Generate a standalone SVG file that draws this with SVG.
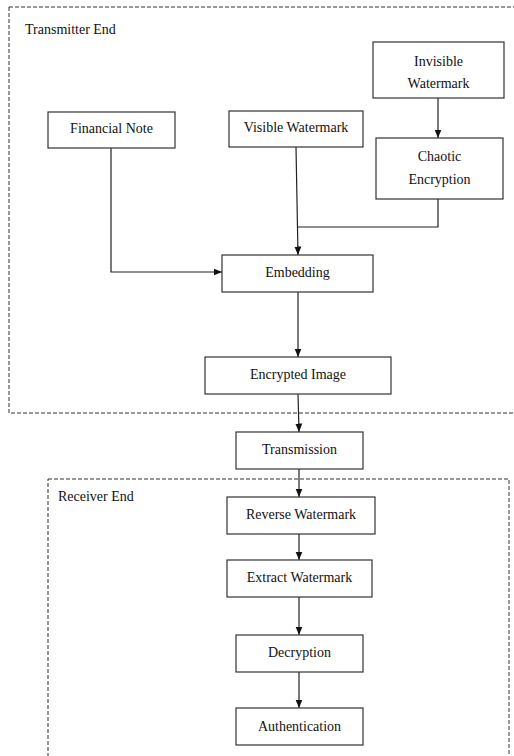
<svg xmlns="http://www.w3.org/2000/svg" width="514" height="756" viewBox="0 0 514 756" font-family="'Liberation Serif', 'DejaVu Serif', 'Times New Roman', serif">
<style>
.box{fill:#fff;stroke:#333;stroke-width:1.2}
.grp{fill:none;stroke:#333;stroke-width:1;stroke-dasharray:4,2}
.t{font-family:'Liberation Serif','DejaVu Serif',serif;font-size:14px;fill:#111;text-anchor:middle}
.lbl{font-family:'Liberation Serif','DejaVu Serif',serif;font-size:14px;fill:#111}
.c{fill:none;stroke:#222;stroke-width:1.2}
</style>
<defs>
<marker id="ah" markerUnits="userSpaceOnUse" markerWidth="9" markerHeight="9" viewBox="0 0 9 9" refX="8.5" refY="4.5" orient="auto">
<path d="M0,1 L8.5,4.5 L0,8 Z" fill="#111"/>
</marker>
</defs>
<rect width="514" height="756" fill="#fff"/>
<g id="transmitter-group">
<rect class="grp" x="9" y="7" width="520" height="406"/>
<text class="lbl" x="25" y="34">Transmitter End</text>
</g>
<g id="receiver-group">
<rect class="grp" x="48" y="479" width="461" height="290"/>
<text class="lbl" x="58" y="501">Receiver End</text>
</g>
<g id="connectors">
<path class="c" d="M438,98 L438,138" marker-end="url(#ah)"/>
<path class="c" d="M296,147 L298,255" marker-end="url(#ah)"/>
<path class="c" d="M438,199 L438,227 L298,227"/>
<path class="c" d="M111,148 L111,272 L222,272" marker-end="url(#ah)"/>
<path class="c" d="M298,292 L298,357" marker-end="url(#ah)"/>
<path class="c" d="M298,394 L299,432" marker-end="url(#ah)"/>
<path class="c" d="M299,469 L299,497" marker-end="url(#ah)"/>
<path class="c" d="M299,534 L299,560" marker-end="url(#ah)"/>
<path class="c" d="M299,597 L299,635" marker-end="url(#ah)"/>
<path class="c" d="M299,672 L299,708" marker-end="url(#ah)"/>
</g>
<g id="invisible-watermark">
<rect class="box" x="373" y="42" width="131" height="56"/>
<text class="t" x="438.5" y="66">Invisible</text>
<text class="t" x="438.5" y="88">Watermark</text>
</g>
<g id="chaotic-encryption">
<rect class="box" x="376" y="138" width="127" height="61"/>
<text class="t" x="439.5" y="161">Chaotic</text>
<text class="t" x="439.5" y="184">Encryption</text>
</g>
<g id="financial-note">
<rect class="box" x="48" y="112" width="127" height="36"/>
<text class="t" x="111.5" y="133">Financial Note</text>
</g>
<g id="visible-watermark">
<rect class="box" x="229" y="111" width="134" height="36"/>
<text class="t" x="296" y="132">Visible Watermark</text>
</g>
<g id="embedding">
<rect class="box" x="222" y="255" width="151" height="37"/>
<text class="t" x="297.5" y="277">Embedding</text>
</g>
<g id="encrypted-image">
<rect class="box" x="205" y="357" width="186" height="37"/>
<text class="t" x="298" y="379">Encrypted Image</text>
</g>
<g id="transmission">
<rect class="box" x="236" y="432" width="127" height="37"/>
<text class="t" x="299.5" y="454">Transmission</text>
</g>
<g id="reverse-watermark">
<rect class="box" x="227" y="497" width="148" height="37"/>
<text class="t" x="301" y="519">Reverse Watermark</text>
</g>
<g id="extract-watermark">
<rect class="box" x="227" y="560" width="145" height="37"/>
<text class="t" x="299.5" y="582">Extract Watermark</text>
</g>
<g id="decryption">
<rect class="box" x="236" y="635" width="127" height="37"/>
<text class="t" x="299.5" y="657">Decryption</text>
</g>
<g id="authentication">
<rect class="box" x="236" y="708" width="127" height="37"/>
<text class="t" x="299.5" y="731">Authentication</text>
</g>
</svg>
